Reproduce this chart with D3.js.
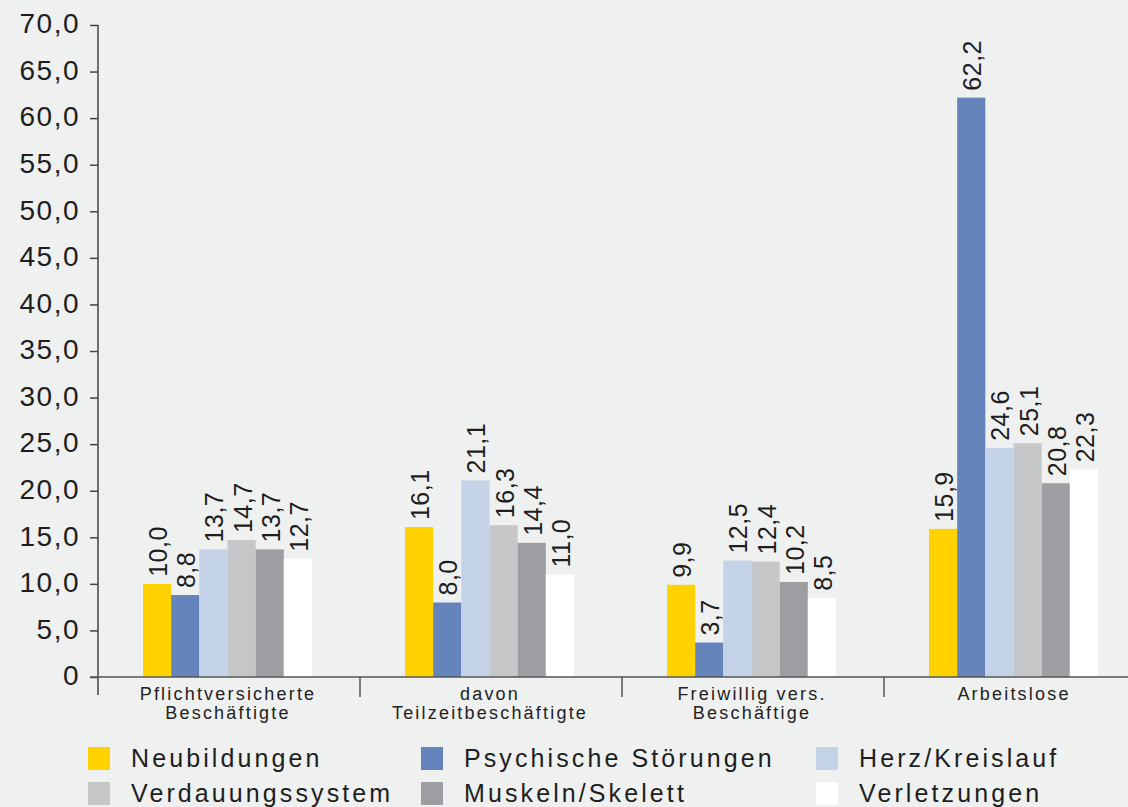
<!DOCTYPE html>
<html>
<head>
	<meta charset="utf-8">
	<title>Arbeitsunfähigkeit nach Diagnosen</title>
	<script src="https://cdnjs.cloudflare.com/ajax/libs/d3/7.8.5/d3.min.js"></script>
	<style>
		body { margin:0; background:#eff0f0; }
		svg { display:block; font-family:"Liberation Sans", Arial, sans-serif; }
	</style>
</head>
<body>
	<div id="chart"></div>
	<script>
		// data
		var categories = ["Pflichtversicherte|Beschäftigte", "davon|Teilzeitbeschäftigte", "Freiwillig vers.|Beschäftige", "Arbeitslose"];
		var seriesNames = ["Neubildungen", "Psychische Störungen", "Herz/Kreislauf", "Verdauungssystem", "Muskeln/Skelett", "Verletzungen"];
		var neubildungen = [10.0, 16.1, 9.9, 15.9];
		var psychische = [8.8, 8.0, 3.7, 62.2];
		var herzKreislauf = [13.7, 21.1, 12.5, 24.6];
		var verdauung = [14.7, 16.3, 12.4, 25.1];
		var muskeln = [13.7, 14.4, 10.2, 20.8];
		var verletzungen = [12.7, 11.0, 8.5, 22.3];
		var yTicks = [0, 5, 10, 15, 20, 25, 30, 35, 40, 45, 50, 55, 60, 65, 70];
		var colors = ["#ffd200", "#6584bb", "#c4d2e7", "#c6c7c9", "#9c9ea1", "#ffffff"];

		var values = [neubildungen, psychische, herzKreislauf, verdauung, muskeln, verletzungen];

		var W = 1128, H = 807;
		var svg = d3.select('#chart').append('svg')
			.attr('width', W)
			.attr('height', H);

		svg.append('rect').attr('width', W).attr('height', H).attr('fill', '#eff0f0');

		var y = d3.scaleLinear().domain([0, 70]).range([677, 25]);
		var x0 = d3.scaleBand().domain(categories).range([98, 1146]).padding(0);
		var x1 = d3.scaleBand().domain(seriesNames).range([45, 214]).padding(0);

		var fmt = function(d) { return d === 0 ? "0" : d.toFixed(1).replace(".", ","); };

		// bars
		var groups = svg.selectAll('g.cat')
			.data(categories)
			.enter().append('g')
			.attr('class', 'cat')
			.attr('transform', function(d) { return 'translate(' + x0(d) + ',0)'; });

		groups.each(function(c, ci) {
			var g = d3.select(this);
			var rows = seriesNames.map(function(s, si) { return { s: s, i: si, v: values[si][ci] }; });
			g.selectAll('rect')
				.data(rows)
				.enter().append('rect')
				.attr('x', function(d) { return x1(d.s); })
				.attr('width', x1.bandwidth())
				.attr('y', function(d) { return y(d.v); })
				.attr('height', function(d) { return y(0) - y(d.v); })
				.attr('fill', function(d) { return colors[d.i]; });
			g.selectAll('text.val')
				.data(rows)
				.enter().append('text')
				.attr('class', 'val')
				.attr('transform', function(d) {
					return 'translate(' + (x1(d.s) + x1.bandwidth() / 2 + 1) + ',' + (y(d.v) - 7) + ') rotate(-90)';
				})
				.attr('dy', '0.36em')
				.attr('font-size', 25)
				.attr('letter-spacing', 0.5)
				.attr('fill', '#1e1e1e')
				.text(function(d) { return fmt(d.v); });
		});

		// y axis
		var yAxis = d3.axisLeft(y).tickValues(yTicks).tickSize(8).tickFormat(fmt);
		var ya = svg.append('g').attr('transform', 'translate(98,0)').call(yAxis);
		ya.select('.domain').remove();
		ya.selectAll('.tick line').attr('stroke', '#444').attr('stroke-width', 1.5);
		ya.selectAll('.tick text')
			.attr('x', -18)
			.attr('dy', '0.28em')
			.attr('font-size', 28)
			.attr('letter-spacing', 1.5)
			.attr('font-family', '"Liberation Sans", Arial, sans-serif')
			.attr('fill', '#1e1e1e');
		svg.append('line')
			.attr('x1', 98).attr('x2', 98)
			.attr('y1', y(70)).attr('y2', 695)
			.attr('stroke', '#444').attr('stroke-width', 1.5);

		// x axis
		svg.append('line')
			.attr('x1', 90).attr('x2', W)
			.attr('y1', y(0)).attr('y2', y(0))
			.attr('stroke', '#555').attr('stroke-width', 1.5);
		svg.selectAll('line.sep')
			.data(categories.slice(1))
			.enter().append('line')
			.attr('class', 'sep')
			.attr('x1', function(d) { return x0(d); })
			.attr('x2', function(d) { return x0(d); })
			.attr('y1', y(0)).attr('y2', 697)
			.attr('stroke', '#555').attr('stroke-width', 1.5);

		var labels = svg.selectAll('text.cat')
			.data(categories)
			.enter().append('text')
			.attr('class', 'cat')
			.attr('text-anchor', 'middle')
			.attr('font-size', 18)
			.attr('letter-spacing', 2.2)
			.attr('fill', '#222');
		labels.each(function(c) {
			var t = d3.select(this);
			c.split('|').forEach(function(line, i) {
				t.append('tspan')
					.attr('x', x0(c) + x1(seriesNames[0]) + 85)
					.attr('y', 700 + i * 19)
					.text(line);
			});
		});

		// legend
		var legX = [88, 421, 816];
		var legend = svg.selectAll('g.leg')
			.data(seriesNames)
			.enter().append('g')
			.attr('class', 'leg')
			.attr('transform', function(d, i) {
				return 'translate(' + legX[i % 3] + ',' + (747 + Math.floor(i / 3) * 35) + ')';
			});
		legend.append('rect')
			.attr('width', 22).attr('height', 23)
			.attr('fill', function(d, i) { return colors[i]; });
		legend.append('text')
			.attr('x', 43)
			.attr('y', 20)
			.attr('font-size', 25)
			.attr('letter-spacing', 3.1)
			.attr('fill', '#1e1e1e')
			.text(function(d) { return d; });
	</script>
</body>
</html>
